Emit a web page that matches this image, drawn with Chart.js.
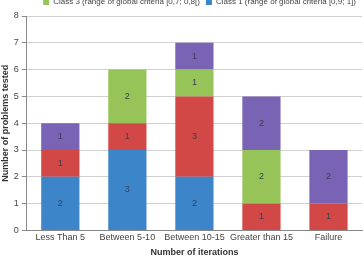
<!DOCTYPE html>
<html lang="en">
<head>
  <meta charset="UTF-8">
  <title>Problems by iterations</title>
  <script src="https://cdn.jsdelivr.net/npm/chart.js"></script>
  <style>
    html, body { margin: 0; padding: 0; background: #fff; overflow: hidden; }
    #wrap { position: absolute; left: 0; top: -8px; width: 364px; height: 267px; }
  </style>
</head>
<body>
  <div id="wrap"><canvas id="chart"></canvas></div>
  <script>
    const categories = ['Less Than 5', 'Between 5-10', 'Between 10-15', 'Greater than 15', 'Failure'];
    const class1 = [2, 3, 2, 0, 0];
    const class2 = [1, 1, 3, 1, 1];
    const class3 = [0, 2, 1, 2, 0];
    const class4 = [1, 0, 1, 2, 2];
    const yTicks = [0, 1, 2, 3, 4, 5, 6, 7, 8];

    // write the value in the middle of each stacked piece
    const segmentLabels = {
      id: 'segmentLabels',
      afterDatasetsDraw(chart) {
        const ctx = chart.ctx;
        ctx.save();
        ctx.font = '9px "Liberation Sans", Arial, sans-serif';
        ctx.fillStyle = '#3a3f55';
        ctx.textAlign = 'center';
        ctx.textBaseline = 'middle';
        chart.data.datasets.forEach((ds, i) => {
          chart.getDatasetMeta(i).data.forEach((bar, j) => {
            const v = ds.data[j];
            if (!v) return;
            const mid = (bar.y + bar.base) / 2;
            ctx.fillText(String(v), bar.x, mid);
          });
        });
        ctx.restore();
      }
    };

    const font = { family: '"Liberation Sans", Arial, sans-serif', size: 9 };

    new Chart(document.getElementById('chart'), {
      type: 'bar',
      data: {
        labels: categories,
        datasets: [
          { label: 'Class 1 (range of global criteria [0,9; 1])', data: class1, backgroundColor: 'rgb(61,133,201)' },
          { label: 'Class 2 (range of global criteria [0,8; 0,9[)', data: class2, backgroundColor: 'rgb(210,72,70)' },
          { label: 'Class 3 (range of global criteria [0,7; 0,8[)', data: class3, backgroundColor: 'rgb(150,196,88)' },
          { label: 'Class 4 (range of global criteria [0; 0,7[)', data: class4, backgroundColor: 'rgb(121,99,180)' }
        ]
      },
      options: {
        responsive: true,
        maintainAspectRatio: false,
        animation: false,
        layout: { padding: { left: 0, right: 2, top: 0, bottom: 1 } },
        datasets: { bar: { categoryPercentage: 0.57, barPercentage: 1 } },
        plugins: {
          tooltip: { enabled: false },
          legend: {
            position: 'top',
            align: 'end',
            reverse: true,
            labels: {
              filter: item => item.text.startsWith('Class 3') || item.text.startsWith('Class 1'),
              boxWidth: 6, boxHeight: 6, padding: 6,
              color: '#444', font: { family: font.family, size: 8 }
            }
          }
        },
        scales: {
          x: {
            stacked: true,
            grid: { display: false, drawTicks: false },
            border: { color: '#888' },
            ticks: { color: '#444', font: font, padding: 2, maxRotation: 0, autoSkip: false },
            title: { display: true, text: 'Number of iterations', color: '#333', font: { family: font.family, size: 9, weight: 'bold' }, padding: { top: 2, bottom: 0 } }
          },
          y: {
            stacked: true,
            min: 0, max: 8,
            afterBuildTicks: axis => { axis.ticks = yTicks.map(v => ({ value: v })); },
            grid: { color: '#d0d0d0', tickLength: 5, tickColor: '#888' },
            border: { color: '#888' },
            ticks: { color: '#444', font: font, padding: 3 },
            title: { display: true, text: 'Number of problems tested', color: '#333', font: { family: font.family, size: 9, weight: 'bold' }, padding: { top: 0, bottom: 0 } }
          }
        }
      },
      plugins: [segmentLabels]
    });
  </script>
</body>
</html>
